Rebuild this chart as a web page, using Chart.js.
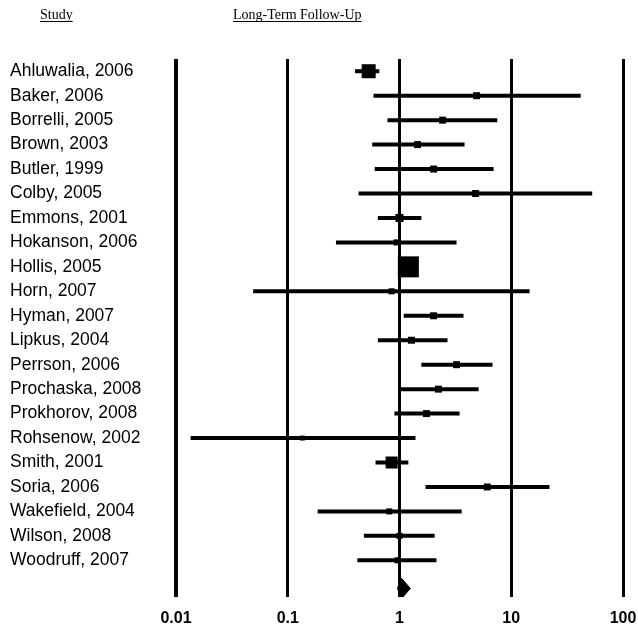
<!DOCTYPE html>
<html>
<head>
<meta charset="utf-8">
<script src="https://cdn.jsdelivr.net/npm/chart.js@4/dist/chart.umd.min.js"></script>
<style>
  body { margin: 0; background: #fff; }
  canvas { display: block; }
</style>
</head>
<body>
<canvas id="forest" width="638" height="628"></canvas>
<script>
const studies = [
  'Ahluwalia, 2006', 'Baker, 2006', 'Borrelli, 2005', 'Brown, 2003', 'Butler, 1999',
  'Colby, 2005', 'Emmons, 2001', 'Hokanson, 2006', 'Hollis, 2005', 'Horn, 2007',
  'Hyman, 2007', 'Lipkus, 2004', 'Perrson, 2006', 'Prochaska, 2008', 'Prokhorov, 2008',
  'Rohsenow, 2002', 'Smith, 2001', 'Soria, 2006', 'Wakefield, 2004', 'Wilson, 2008',
  'Woodruff, 2007'
];
const estimates = [0.53, 4.9, 2.43, 1.45, 2.02, 4.8, 1.0, 0.94, 1.2, 0.85, 2.02, 1.28, 3.24, 2.23, 1.74, 0.135, 0.85, 6.1, 0.81, 1.0, 0.96];
const lower = [0.40, 0.585, 0.78, 0.57, 0.60, 0.43, 0.64, 0.27, 1.0, 0.049, 1.09, 0.64, 1.57, 1.02, 0.90, 0.0135, 0.61, 1.71, 0.185, 0.48, 0.42];
const upper = [0.66, 41.8, 7.5, 3.82, 6.95, 53, 1.57, 3.24, 1.45, 14.6, 3.74, 2.69, 6.8, 5.1, 3.45, 1.39, 1.2, 22, 3.6, 2.06, 2.14];
// relative study weights (%), drive the box size
const weights = [9.7, 2.4, 2.4, 2.4, 2.4, 2.4, 3.2, 1.8, 21.8, 1.8, 2.4, 2.4, 2.4, 2.4, 2.4, 1.2, 7.1, 2.4, 1.8, 1.8, 1.8];
const pooled = { est: 1.04, lo: 0.96, hi: 1.25 };
const tickValues = [0.01, 0.1, 1, 10, 100];
const tickLabels = ['0.01', '0.1', '1', '10', '100'];

const summaryRow = studies.length;

const ciSets = studies.map((s, i) => ({
  label: s,
  showLine: true,
  data: [{ x: lower[i], y: i }, { x: upper[i], y: i }],
  borderColor: '#000',
  borderWidth: 4,
  borderCapStyle: 'butt',
  pointRadius: 0,
}));

const boxSet = {
  label: 'estimate',
  data: estimates.map((v, i) => ({ x: v, y: i })),
  pointStyle: 'rect',
  pointRadius: weights.map(w => 4.5 * Math.sqrt(w) / Math.SQRT2),
  backgroundColor: '#000',
  borderWidth: 0,
};

// pooled diamond sits a little below the last study row
const dy = summaryRow + 0.15;
const diamondSet = {
  label: 'pooled',
  showLine: true,
  data: [
    { x: pooled.lo, y: dy },
    { x: pooled.est, y: dy - 0.42 },
    { x: pooled.hi, y: dy },
    { x: pooled.est, y: dy + 0.42 },
    { x: pooled.lo, y: dy },
  ],
  fill: 'shape',
  backgroundColor: '#000',
  borderColor: '#000',
  borderWidth: 1,
  pointRadius: 0,
  tension: 0,
};

const headers = {
  id: 'headers',
  afterDraw(chart) {
    const ctx = chart.ctx;
    ctx.save();
    ctx.font = '14px "Liberation Serif", "Times New Roman", serif';
    ctx.fillStyle = '#000';
    ctx.strokeStyle = '#000';
    ctx.lineWidth = 1;
    ctx.textBaseline = 'alphabetic';
    [['Study', 40], ['Long-Term Follow-Up', 233]].forEach(([t, x]) => {
      ctx.fillText(t, x, 19);
      const w = ctx.measureText(t).width;
      ctx.beginPath();
      ctx.moveTo(x, 21.5);
      ctx.lineTo(x + w, 21.5);
      ctx.stroke();
    });
    ctx.restore();
  }
};

new Chart(document.getElementById('forest'), {
  type: 'scatter',
  data: { datasets: [...ciSets, boxSet, diamondSet] },
  plugins: [headers],
  options: {
    responsive: false,
    animation: false,
    layout: { padding: { left: 10, right: 15, top: 59, bottom: 0 } },
    plugins: {
      legend: { display: false },
      tooltip: { enabled: false },
    },
    scales: {
      x: {
        type: 'logarithmic',
        min: 0.01,
        max: 100,
        afterBuildTicks: scale => { scale.ticks = tickValues.map(v => ({ value: v })); },
        afterFit: scale => {
          scale.height = 31;
          scale.paddingLeft = 0;
          scale.paddingRight = 0;
        },
        ticks: {
          autoSkip: false,
          maxRotation: 0,
          padding: 12,
          color: '#000',
          font: { family: '"Liberation Sans", Arial, sans-serif', size: 16, weight: 'bold' },
          callback: (v, i) => tickLabels[i],
        },
        grid: {
          color: '#000',
          lineWidth: ctx => (ctx.index === 0 ? 4 : 3),
          drawTicks: false,
        },
        border: { display: false },
      },
      y: {
        type: 'linear',
        reverse: true,
        min: -0.5,
        max: summaryRow + 0.5,
        afterBuildTicks: scale => { scale.ticks = studies.map((s, i) => ({ value: i })); },
        afterFit: scale => {
          scale.width = 166;
          scale.paddingTop = 0;
          scale.paddingBottom = 0;
        },
        ticks: {
          autoSkip: false,
          crossAlign: 'far',
          color: '#000',
          font: { family: '"Liberation Sans", Arial, sans-serif', size: 17.5 },
          callback: v => studies[v],
        },
        grid: { display: false },
        border: { display: false },
      },
    },
  },
});
</script>
</body>
</html>
